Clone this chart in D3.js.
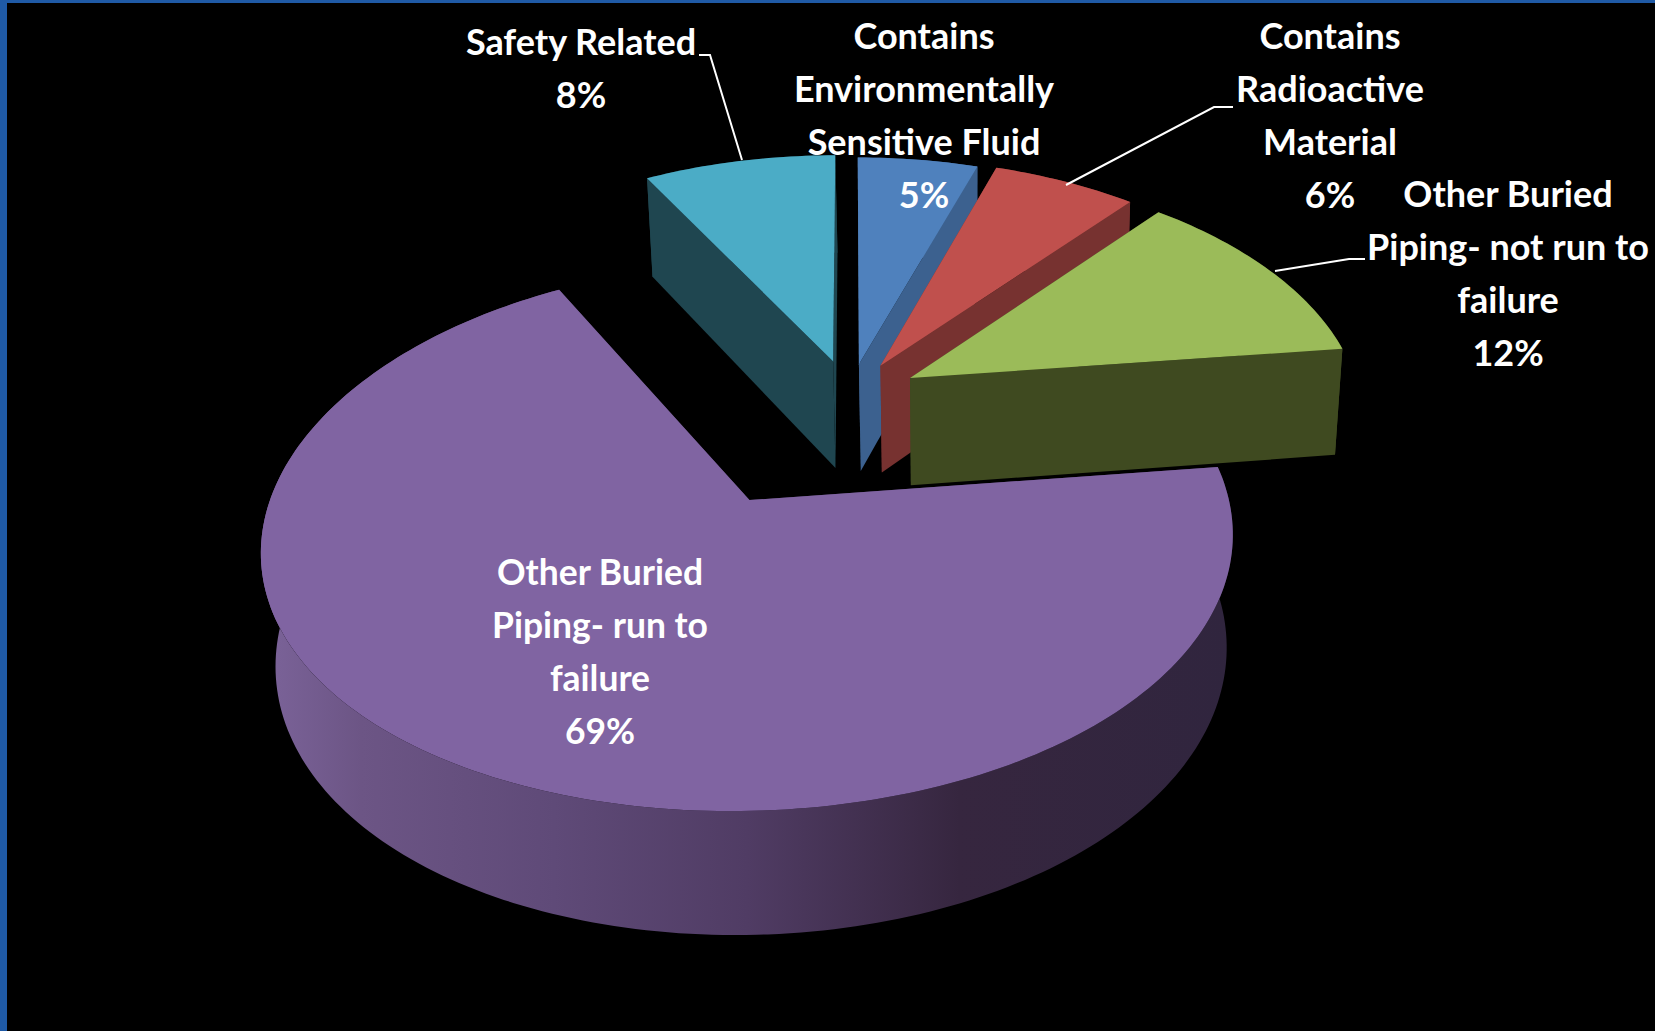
<!DOCTYPE html>
<html>
<head>
<meta charset="utf-8">
<script src="https://cdn.jsdelivr.net/npm/d3@7"></script>
<style>
  html, body { margin: 0; padding: 0; background: #000; overflow: hidden; }
  svg { display: block; }
  text { font-family: Lato, "Open Sans", sans-serif; font-weight: 700; fill: #fff; text-anchor: middle; dominant-baseline: middle; }
</style>
</head>
<body>
<svg id="chart" width="1655" height="1031"></svg>
<script>
// Buried piping population by category, in pie order clockwise from 12 o'clock.
const categories = [
  "Contains Environmentally Sensitive Fluid",
  "Contains Radioactive Material",
  "Other Buried Piping- not run to failure",
  "Other Buried Piping- run to failure",
  "Safety Related"
];
const shares = [5, 6, 12, 69, 8];
const explosions = [0.135, 0.145, 0.155, 0.46, 0.15];
const topColors = ["#4f81bd", "#c0504d", "#9bbb59", "#8064a2", "#4bacc6"];
const sideColors = ["#3c618f", "#773230", "#3f4a20", "#4a3a60", "#1f4650"];
const labelLines = [
  ["Contains", "Environmentally", "Sensitive Fluid"],
  ["Contains", "Radioactive", "Material"],
  ["Other Buried", "Piping- not run to", "failure"],
  ["Other Buried", "Piping- run to", "failure"],
  ["Safety Related"]
];
// Label block centre x, first line centre y, horizontal squeeze.
const labelSpots = [
  [924, 40, 1], [1330, 40, 1], [1508, 198, 1], [600, 576, 0.985], [581, 46, 1]
];
// Leader lines as elbow points: label end, elbow, slice end.
const leaders = [
  null,
  [[1233, 107], [1214, 107], [1066, 185]],
  [[1365, 259], [1349, 259], [1275, 271]],
  null,
  [[699, 55], [710, 55], [742, 160]]
];

const width = 1655, height = 1031;
const lineGap = 53, fontSize = 36;

// Oblique view of the disc: plane coordinates (u, v) plus drop z, with perspective.
const view = { cx: 849.6, cy: 395.8, r: 450, ry: 241, persp: 0.129, perspX: 0.15, shrink: 0.0154, shrinkX: 0.02, drop: 109.7, skew: 2 };
function project(u, v, z) {
  const w = 1 / (1 - view.persp * v + view.shrink * z);
  const wx = 1 / (1 - view.perspX * v + view.shrinkX * z);
  return [view.cx + view.r * u * wx + view.skew * z, view.cy + (view.ry * v + view.drop * z) * w];
}

const svg = d3.select("#chart");
svg.append("rect").attr("width", width).attr("height", height).attr("fill", "#1f5aa6");
svg.append("rect").attr("x", 7).attr("y", 3).attr("width", width - 7).attr("height", height - 3).attr("fill", "#000");

// Shaded rim of the large slice, lighter on the left and dark on the right.
const rimGradient = svg.append("defs").append("linearGradient")
  .attr("id", "rimShade").attr("gradientUnits", "userSpaceOnUse")
  .attr("x1", 265).attr("x2", 1230).attr("y1", 0).attr("y2", 0);
[[0, "#7b6399"], [0.1, "#6c5585"], [0.3, "#5f4a78"], [0.5, "#503c64"], [0.72, "#36263f"], [1, "#30253e"]]
  .forEach(([o, c]) => rimGradient.append("stop").attr("offset", o).attr("stop-color", c));

const pie = d3.pie().sort(null).startAngle(0).endAngle(2 * Math.PI);
const arcs = pie(shares);
const line = d3.line();

function rimPoints(a0, a1, ex, bis, z) {
  const ox = ex * Math.sin(bis), oy = -ex * Math.cos(bis);
  const n = Math.max(8, Math.ceil((a1 - a0) / 0.02));
  return d3.range(n + 1).map(i => {
    const a = a0 + (a1 - a0) * i / n;
    return project(ox + Math.sin(a), oy - Math.cos(a), z);
  });
}

// Painter's order: the large slice first, then the small ones from left to right.
const paintOrder = [3, 4, 0, 1, 2];
paintOrder.forEach(i => {
  const d = arcs[i], ex = explosions[i], bis = (d.startAngle + d.endAngle) / 2;
  const ox = ex * Math.sin(bis), oy = -ex * Math.cos(bis);
  const g = svg.append("g").attr("class", "slice");
  const rimTop = rimPoints(d.startAngle, d.endAngle, ex, bis, 0);
  const rimBot = rimPoints(d.startAngle, d.endAngle, ex, bis, 1);
  const sideFill = i === 3 ? "url(#rimShade)" : sideColors[i];

  g.append("path").attr("d", line(rimTop.concat(rimBot.slice().reverse())) + "Z")
    .attr("fill", sideFill);
  [d.startAngle, d.endAngle].forEach((a, k) => {
    const rimEnd = k === 0 ? 0 : rimTop.length - 1;
    const wall = [project(ox, oy, 0), rimTop[rimEnd], rimBot[rimEnd], project(ox, oy, 1)];
    g.append("path").attr("d", line(wall) + "Z").attr("fill", sideColors[i]);
  });
  g.append("path").attr("d", line([project(ox, oy, 0)].concat(rimTop)) + "Z")
    .attr("fill", topColors[i]);
});

// Leader lines from the outer labels to their slices.
leaders.forEach(pts => {
  if (!pts) return;
  svg.append("path").attr("d", line(pts)).attr("fill", "none")
    .attr("stroke", "#fff").attr("stroke-width", 2);
});

// Category name lines followed by the percentage.
categories.forEach((name, i) => {
  const [x, y, squeeze] = labelSpots[i];
  const lines = labelLines[i].concat(shares[i] + "%");
  const g = svg.append("g").attr("transform", `translate(${x},${y}) scale(${squeeze},1)`);
  g.selectAll("text").data(lines).join("text")
    .attr("y", (t, k) => k * lineGap)
    .attr("font-size", fontSize)
    .text(t => t);
});
</script>
</body>
</html>
